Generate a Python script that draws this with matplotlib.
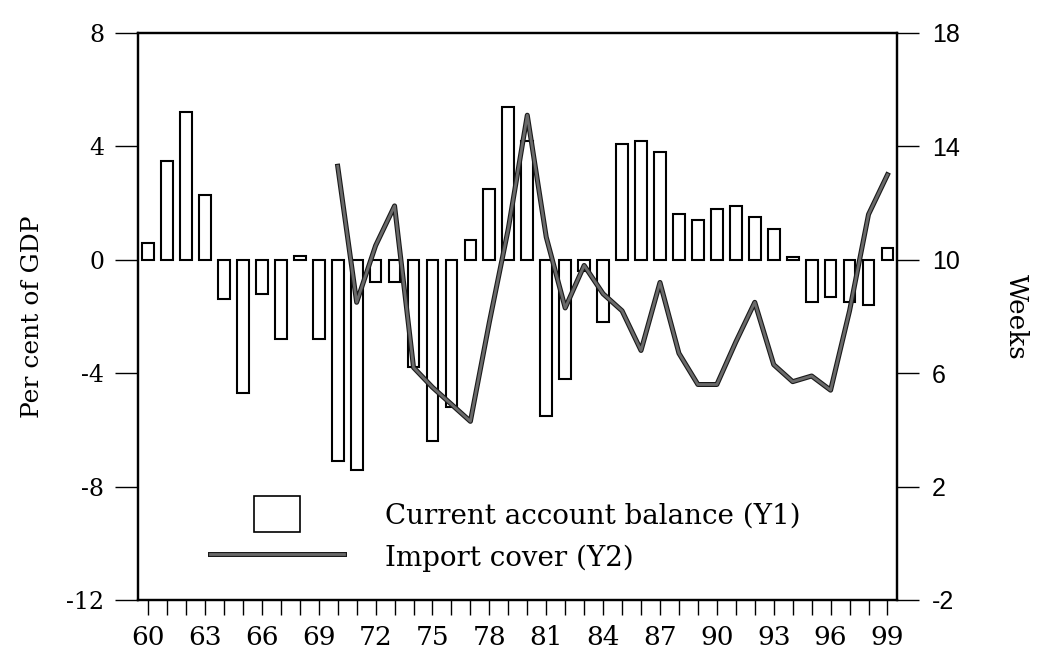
import matplotlib
matplotlib.use("Agg")
import matplotlib.pyplot as plt
import matplotlib.patheffects as pe
from matplotlib.patches import Rectangle, Patch
from matplotlib.lines import Line2D
from matplotlib.legend_handler import HandlerPatch

# ---- data ----
years = list(range(1960, 2000))
current_account = [0.6, 3.5, 5.2, 2.3, -1.4, -4.7, -1.2, -2.8, 0.15, -2.8,
                   -7.1, -7.4, -0.8, -0.8, -3.8, -6.4, -5.2, 0.7, 2.5, 5.4,
                   4.2, -5.5, -4.2, -0.4, -2.2, 4.1, 4.2, 3.8, 1.6, 1.4,
                   1.8, 1.9, 1.5, 1.1, 0.1, -1.5, -1.3, -1.5, -1.6, 0.4]
cover_years = list(range(1970, 2000))
import_cover = [13.3, 8.5, 10.5, 11.9, 6.2, 5.5, 4.9, 4.3, 7.8, 11.1,
                15.1, 10.8, 8.3, 9.8, 8.8, 8.2, 6.8, 9.2, 6.7, 5.6,
                5.6, 7.1, 8.5, 6.3, 5.7, 5.9, 5.4, 8.2, 11.6, 13.0]
xtick_years = list(range(1960, 2000, 3))
xtick_labels = [f"{y % 100:02d}" for y in xtick_years]
left_ticks = [8, 4, 0, -4, -8, -12]
right_ticks = [18, 14, 10, 6, 2, -2]

serif = "DejaVu Serif"
sans = "Liberation Sans"

fig = plt.figure(figsize=(10.54, 6.6), dpi=100)
ax = fig.add_axes([0.131, 0.091, 0.72, 0.859])
ax2 = ax.twinx()

ax.bar(years, current_account, width=0.62, facecolor="white",
       edgecolor="black", linewidth=1.5, zorder=2)
ax.set_xlim(1959.47, 1999.5)
ax.set_ylim(-12, 8)
ax.set_yticks(left_ticks)
ax.set_yticklabels([str(t) for t in left_ticks], fontfamily=serif, fontsize=17)
ax.set_xticks(xtick_years)
ax.set_xticklabels(xtick_labels, fontfamily=serif, fontsize=19)
ax.set_xticks(years, minor=True)
ax.tick_params(axis="x", which="both", direction="out", length=11, width=1.0, pad=7)
ax.tick_params(axis="y", direction="out", length=16.5, width=1.0, pad=8)
ax.set_ylabel("Per cent of GDP", fontfamily=serif, fontsize=18, labelpad=16)

line, = ax2.plot(cover_years, import_cover, color="#6a6a6a", linewidth=2.0,
                 zorder=3,
                 path_effects=[pe.Stroke(linewidth=3.6, foreground="#1a1a1a"),
                               pe.Normal()])
ax2.set_ylim(-2, 18)
ax2.set_yticks(right_ticks)
ax2.set_yticklabels([str(t) for t in right_ticks], fontfamily=sans, fontsize=18)
ax2.tick_params(axis="y", direction="out", length=16, width=1.0, pad=9)
ax2.set_ylabel("Weeks", fontfamily=serif, fontsize=19, rotation=270, labelpad=50)

for a in (ax, ax2):
    for s in a.spines.values():
        s.set_linewidth(1.6)


def small_box(legend, orig_handle, xdescent, ydescent, width, height, fontsize):
    h = height * 1.2
    w = h * 1.29
    return Rectangle((-xdescent + (width - w) / 2, -ydescent - 0.1 * height), w, h)


h_bar = Patch(facecolor="white", edgecolor="black", linewidth=1.2)
h_line = Line2D([], [], color="#6a6a6a", linewidth=2.0,
                path_effects=[pe.Stroke(linewidth=3.6, foreground="#1a1a1a"), pe.Normal()])
leg = ax.legend([h_bar, h_line],
                ["Current account balance (Y1)", "Import cover (Y2)"],
                loc="upper left", bbox_to_anchor=(0.095, 0.178),
                frameon=False, borderpad=0, borderaxespad=0,
                handlelength=4.8, handleheight=1.26, handletextpad=1.5,
                labelspacing=0.45,
                prop={"family": serif, "size": 20},
                handler_map={Patch: HandlerPatch(patch_func=small_box)})
leg.set_zorder(5)

fig.savefig("out.png", dpi=100)
